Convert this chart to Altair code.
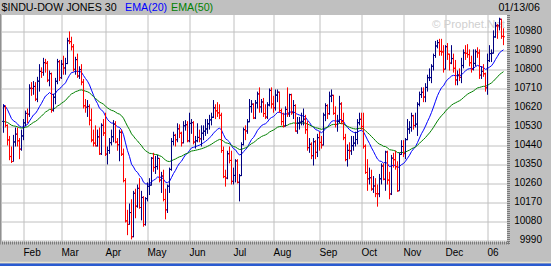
import altair as alt
import pandas as pd

# ---- daily OHLC values (Jan 18 2005 .. Jan 13 2006) ----
opens = [
    10559, 10628, 10539, 10471, 10392, 10369, 10461, 10498, 10467, 10428,
    10490, 10552, 10597, 10593, 10716, 10715, 10724, 10664, 10749, 10796, 10791, 10837, 10834, 10754, 10785, 10611, 10673, 10749, 10841,
    10766, 10830, 10812, 10833, 10940, 10936, 10912, 10805, 10851, 10774, 10804, 10745, 10633, 10626, 10629, 10565, 10470, 10456, 10443, 10485, 10405, 10540,
    10504, 10404, 10421, 10458, 10486, 10546, 10461, 10448, 10507, 10403, 10278, 10087, 10071, 10127, 10013, 10218, 10157, 10242, 10151, 10198, 10071,
    10193, 10251, 10257, 10384, 10341, 10345, 10384, 10281, 10300, 10189, 10140, 10252, 10331, 10464, 10493, 10472, 10523, 10503, 10457, 10538, 10543,
    10467, 10549, 10553, 10461, 10467, 10483, 10476, 10503, 10512, 10523, 10547, 10566, 10578, 10623, 10609, 10599, 10588, 10421, 10297, 10290, 10405, 10374,
    10275, 10303, 10371, 10270, 10302, 10449, 10519, 10513, 10557, 10629, 10640, 10575, 10646, 10689, 10627, 10651, 10596, 10579, 10637, 10705,
    10641, 10623, 10683, 10697, 10610, 10558, 10536, 10615, 10594, 10685, 10600, 10634, 10513, 10550, 10555, 10559, 10569, 10519, 10434, 10450, 10396, 10462, 10412,
    10482, 10459, 10447, 10589, 10633, 10595, 10678, 10682, 10597, 10544, 10558, 10641, 10557, 10481, 10378, 10421, 10419, 10443, 10456, 10473, 10552,
    10569, 10535, 10441, 10317, 10287, 10292, 10238, 10253, 10216, 10216, 10287, 10347, 10285, 10414, 10281, 10215, 10385, 10377, 10344, 10230, 10402,
    10440, 10406, 10472, 10522, 10530, 10585, 10539, 10546, 10640, 10686, 10697, 10674, 10720, 10766, 10766, 10820, 10871, 10916, 10932, 10890, 10888,
    10806, 10912, 10877, 10835, 10856, 10810, 10755, 10778, 10767, 10823, 10883, 10881, 10875, 10836, 10805, 10833, 10889, 10883, 10778, 10796, 10784,
    10718, 10847, 10880, 10882, 10959, 11011, 11012, 11043, 10962,
]
highs = [
    10640, 10635, 10545, 10490, 10440, 10495, 10530, 10530, 10480, 10520,
    10570, 10610, 10620, 10735, 10745, 10750, 10745, 10770, 10830, 10815, 10860, 10855, 10845, 10800, 10790, 10690, 10765, 10855, 10850,
    10850, 10870, 10860, 10955, 10985, 10960, 10925, 10865, 10880, 10820, 10830, 10760, 10665, 10660, 10640, 10620, 10520, 10540, 10520, 10530, 10550, 10570,
    10600, 10440, 10480, 10520, 10565, 10560, 10480, 10520, 10520, 10430, 10290, 10140, 10170, 10190, 10230, 10240, 10260, 10290, 10230, 10205, 10200,
    10270, 10290, 10390, 10410, 10395, 10400, 10385, 10320, 10330, 10240, 10260, 10340, 10480, 10510, 10500, 10550, 10545, 10510, 10560, 10565, 10560,
    10600, 10570, 10560, 10490, 10550, 10520, 10540, 10540, 10570, 10570, 10590, 10600, 10660, 10640, 10650, 10640, 10600, 10440, 10330, 10420, 10440, 10420,
    10340, 10380, 10380, 10310, 10460, 10530, 10540, 10570, 10665, 10660, 10645, 10660, 10700, 10720, 10665, 10670, 10640, 10650, 10715, 10720,
    10680, 10710, 10710, 10700, 10620, 10600, 10630, 10720, 10690, 10690, 10660, 10640, 10580, 10580, 10600, 10620, 10590, 10560, 10480, 10460, 10480, 10470, 10500,
    10510, 10490, 10600, 10645, 10640, 10700, 10710, 10685, 10630, 10590, 10680, 10650, 10600, 10500, 10450, 10460, 10490, 10490, 10510, 10570, 10600,
    10600, 10600, 10450, 10380, 10340, 10330, 10300, 10290, 10260, 10310, 10360, 10360, 10420, 10420, 10320, 10400, 10410, 10420, 10370, 10410, 10470,
    10470, 10480, 10570, 10560, 10600, 10590, 10600, 10650, 10700, 10720, 10720, 10740, 10780, 10810, 10830, 10880, 10940, 10945, 10950, 10950, 10920,
    10920, 10930, 10880, 10920, 10880, 10850, 10800, 10810, 10860, 10900, 10920, 10925, 10900, 10870, 10900, 10900, 10910, 10900, 10820, 10830, 10790,
    10880, 10920, 10900, 10990, 11030, 11020, 11050, 11045, 11000,
]
lows = [
    10505, 10530, 10445, 10375, 10362, 10369, 10440, 10440, 10380, 10420,
    10470, 10535, 10550, 10580, 10680, 10685, 10655, 10650, 10700, 10765, 10775, 10790, 10745, 10725, 10600, 10605, 10640, 10735, 10750,
    10760, 10780, 10780, 10830, 10925, 10895, 10795, 10780, 10765, 10760, 10730, 10620, 10600, 10580, 10540, 10460, 10440, 10440, 10440, 10400, 10400, 10490,
    10395, 10355, 10405, 10445, 10460, 10455, 10420, 10370, 10395, 10270, 10080, 10020, 10070, 10000, 10010, 10100, 10150, 10145, 10090, 10060, 10065,
    10180, 10210, 10255, 10320, 10310, 10330, 10270, 10220, 10180, 10095, 10125, 10220, 10325, 10445, 10440, 10460, 10480, 10440, 10455, 10515, 10460,
    10460, 10500, 10450, 10430, 10460, 10460, 10440, 10470, 10490, 10500, 10520, 10540, 10575, 10570, 10580, 10570, 10410, 10290, 10250, 10285, 10360, 10260,
    10260, 10270, 10265, 10180, 10300, 10445, 10470, 10500, 10555, 10600, 10570, 10570, 10620, 10600, 10600, 10580, 10570, 10570, 10630, 10620,
    10600, 10610, 10650, 10600, 10540, 10530, 10535, 10580, 10580, 10590, 10570, 10510, 10500, 10520, 10540, 10540, 10500, 10420, 10410, 10380, 10350, 10380, 10390,
    10420, 10430, 10445, 10560, 10570, 10590, 10650, 10590, 10530, 10510, 10550, 10545, 10470, 10370, 10345, 10380, 10400, 10420, 10440, 10450, 10540,
    10520, 10430, 10310, 10230, 10260, 10230, 10220, 10200, 10155, 10200, 10260, 10280, 10230, 10260, 10190, 10210, 10340, 10330, 10225, 10230, 10400,
    10390, 10380, 10470, 10500, 10510, 10520, 10530, 10490, 10630, 10670, 10650, 10650, 10700, 10750, 10740, 10800, 10860, 10905, 10870, 10870, 10790,
    10805, 10850, 10800, 10830, 10790, 10730, 10730, 10750, 10740, 10810, 10850, 10860, 10820, 10790, 10800, 10820, 10860, 10760, 10760, 10770, 10700,
    10685, 10840, 10840, 10880, 10955, 10950, 10990, 10950, 10920,
]
closes = [
    10629, 10540, 10471, 10393, 10369, 10462, 10499, 10467, 10427, 10490,
    10552, 10597, 10593, 10716, 10715, 10725, 10664, 10750, 10796, 10791, 10837, 10835, 10754, 10785, 10611, 10674, 10749, 10842, 10766,
    10830, 10812, 10833, 10941, 10937, 10913, 10806, 10852, 10774, 10805, 10745, 10633, 10626, 10630, 10565, 10471, 10456, 10443, 10486, 10406, 10541, 10504,
    10404, 10421, 10458, 10486, 10546, 10461, 10449, 10508, 10404, 10279, 10088, 10071, 10127, 10012, 10219, 10158, 10242, 10151, 10199, 10070, 10193,
    10252, 10257, 10385, 10340, 10345, 10384, 10281, 10300, 10189, 10140, 10252, 10332, 10464, 10493, 10472, 10524, 10503, 10458, 10538, 10543, 10467,
    10550, 10553, 10461, 10467, 10483, 10477, 10503, 10513, 10523, 10548, 10566, 10579, 10623, 10609, 10600, 10588, 10421, 10298, 10291, 10406, 10374, 10275,
    10303, 10372, 10271, 10302, 10449, 10520, 10514, 10557, 10629, 10641, 10575, 10647, 10689, 10628, 10651, 10596, 10580, 10637, 10706, 10641,
    10623, 10684, 10698, 10610, 10558, 10537, 10616, 10594, 10686, 10600, 10634, 10513, 10551, 10555, 10559, 10570, 10520, 10435, 10451, 10397, 10463, 10413, 10482,
    10460, 10447, 10589, 10634, 10596, 10679, 10683, 10597, 10544, 10559, 10642, 10558, 10482, 10378, 10422, 10420, 10444, 10456, 10473, 10553, 10569,
    10535, 10441, 10317, 10287, 10292, 10239, 10253, 10217, 10216, 10287, 10348, 10285, 10414, 10281, 10215, 10385, 10378, 10345, 10230, 10403, 10440,
    10407, 10473, 10523, 10531, 10586, 10540, 10546, 10640, 10686, 10697, 10675, 10720, 10766, 10767, 10820, 10871, 10916, 10932, 10891, 10888, 10806,
    10913, 10878, 10835, 10857, 10811, 10755, 10779, 10768, 10824, 10884, 10882, 10876, 10837, 10806, 10834, 10889, 10883, 10778, 10796, 10785, 10718,
    10847, 10880, 10882, 10959, 11012, 11011, 11043, 10962, 10960,
]

ema20_start = 10640
ema50_start = 10555

# axis labels
month_labels = ["Feb", "Mar", "Apr", "May", "Jun", "Jul", "Aug", "Sep", "Oct", "Nov", "Dec", "06"]
month_start_idx = [10, 29, 51, 72, 93, 115, 135, 158, 179, 200, 221, 242]
price_ticks = [9990, 10080, 10170, 10260, 10350, 10440, 10530, 10620, 10710, 10800, 10890, 10980]

# ---- build table ----
n = min(len(opens), len(highs), len(lows), len(closes))


def ema(values, span, start):
    a = 2.0 / (span + 1)
    out, prev = [], start
    for v in values:
        prev = prev + a * (v - prev)
        out.append(prev)
    return out


prev_close = [opens[0]] + closes[: n - 1]
df = pd.DataFrame({
    "i": list(range(n)),
    "open": opens[:n],
    "high": [max(h, o, c) for h, o, c in zip(highs, opens, closes)][:n],
    "low": [min(l, o, c) for l, o, c in zip(lows, opens, closes)][:n],
    "close": closes[:n],
})
df["dir"] = ["up" if c >= p else "down" for c, p in zip(closes[:n], prev_close)]
df["ema20"] = ema(closes[:n], 20, ema20_start)
df["ema50"] = ema(closes[:n], 50, ema50_start)
df["xl"] = df["i"] - 0.75
df["xr"] = df["i"] + 0.75

FONT = "Liberation Sans"
W, H = 505, 227

xscale = alt.Scale(domain=[-0.75, 251.75], nice=False, zero=False)
yscale = alt.Scale(domain=[9987.63, 11062.89], nice=False, zero=False)

label_expr = "[{}][indexof([{}], datum.value)]".format(
    ",".join("'%s'" % m for m in month_labels),
    ",".join(str(v) for v in month_start_idx),
)

xaxis = alt.Axis(values=month_start_idx, labelExpr=label_expr, grid=True, gridColor="#c0c0c0",
                 gridWidth=1, ticks=False, tickSize=0, domain=False, labelAlign="left",
                 labelBaseline="alphabetic", labelPadding=14, labelFontSize=10, labelFont=FONT,
                 labelColor="#000000", title=None, labelFlush=False, labelOverlap=False)
yaxis = alt.Axis(orient="right", values=price_ticks, format="d", grid=True, gridColor="#c0c0c0",
                 gridWidth=1, ticks=False, tickSize=0, domain=False, labelAlign="right",
                 labelBaseline="middle", labelPadding=35, labelOffset=-1.5, labelFontSize=10,
                 labelFont=FONT, labelColor="#000000", title=None, labelFlush=False,
                 labelOverlap=False)

color = alt.Color("dir:N", scale=alt.Scale(domain=["up", "down"], range=["#000080", "#ff0000"]),
                  legend=None)

base = alt.Chart(df)

# the layer that owns both axes (gridlines + labels)
axes_layer = base.mark_line(color="#0000ff", strokeWidth=1, opacity=0).encode(
    x=alt.X("i:Q", scale=xscale, axis=xaxis),
    y=alt.Y("ema20:Q", scale=yscale, axis=yaxis),
)
ema20_line = base.mark_line(color="#0000ff", strokeWidth=1).encode(
    x=alt.X("i:Q", scale=xscale, axis=xaxis),
    y=alt.Y("ema20:Q", scale=yscale, axis=yaxis),
)
ema50_line = base.mark_line(color="#008000", strokeWidth=1).encode(
    x=alt.X("i:Q", scale=xscale, axis=xaxis),
    y=alt.Y("ema50:Q", scale=yscale, axis=yaxis),
)
hl = base.mark_rule(strokeWidth=1).encode(
    x=alt.X("i:Q", scale=xscale, axis=xaxis),
    y=alt.Y("low:Q", scale=yscale, axis=yaxis),
    y2="high:Q",
    color=color,
)
open_tick = base.mark_rule(strokeWidth=1).encode(
    x=alt.X("xl:Q", scale=xscale, axis=xaxis),
    x2="i:Q",
    y=alt.Y("open:Q", scale=yscale, axis=yaxis),
    color=color,
)
close_tick = base.mark_rule(strokeWidth=1).encode(
    x=alt.X("i:Q", scale=xscale, axis=xaxis),
    x2="xr:Q",
    y=alt.Y("close:Q", scale=yscale, axis=yaxis),
    color=color,
)


def label(text, x, y, col, size=10.7, align="left"):
    return alt.Chart(pd.DataFrame({"t": [text]})).mark_text(
        align=align, baseline="alphabetic", font=FONT, fontSize=size, color=col
    ).encode(text="t:N", x=alt.value(x), y=alt.value(y))


watermark = label("© Prophet.Net", 503, 13, "#cfcfcf", size=11.5, align="right")
title1 = label("$INDU-DOW JONES 30", -0.5, -4, "#000000")
title2 = label("EMA(20)", 123, -4, "#0000ff")
title3 = label("EMA(50)", 169, -4, "#008000")
date_lbl = label("01/13/06", 538, -4, "#000000", align="right")

one = pd.DataFrame({"k": [0]})
right_border = alt.Chart(one).mark_rule(color="#7a7a7a", strokeWidth=3, strokeDash=[1, 1]).encode(
    x=alt.value(506.5), y=alt.value(0), y2=alt.value(229.5))
bottom_border = alt.Chart(one).mark_rule(color="#7a7a7a", strokeWidth=3, strokeDash=[1, 1]).encode(
    x=alt.value(0), x2=alt.value(508), y=alt.value(228))
left_border = alt.Chart(one).mark_rule(color="#909090", strokeWidth=1).encode(
    x=alt.value(-1.5), y=alt.value(-1), y2=alt.value(229.5))
frame_light = alt.Chart(one).mark_rule(color="#e8e4d0", strokeWidth=1.5).encode(
    x=alt.value(-2), x2=alt.value(549), y=alt.value(247.5))
frame_blue = alt.Chart(one).mark_rule(color="#2a5bd0", strokeWidth=2.5).encode(
    x=alt.value(-2), x2=alt.value(549), y=alt.value(249.8))

chart = alt.layer(
    axes_layer, watermark, ema20_line, ema50_line, hl, open_tick, close_tick,
    right_border, bottom_border, left_border, frame_light, frame_blue,
    title1, title2, title3, date_lbl,
).properties(
    width=W, height=H,
    padding={"left": 2, "top": 15, "right": 44, "bottom": 24},
    autosize=alt.AutoSizeParams(type="none"),
    background="#c0c0c0",
).configure_view(fill="#ffffff", stroke=None).configure_axis(translate=0)

chart.save("out.html", embed_options={"renderer": "svg", "actions": False})
